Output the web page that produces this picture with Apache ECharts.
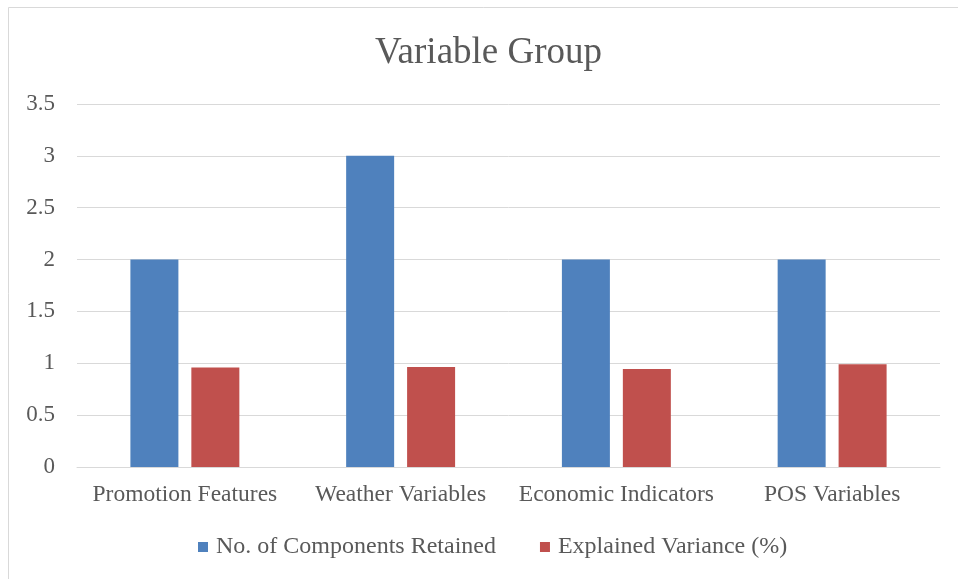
<!DOCTYPE html>
<html>
<head>
<meta charset="utf-8">
<script src="https://cdn.jsdelivr.net/npm/echarts@6/dist/echarts.min.js"></script>
<style>
  html, body { margin: 0; padding: 0; background: #ffffff; }
  #chart { width: 958px; height: 579px; }
</style>
</head>
<body>
<div id="chart"></div>
<script>
// Variable groups and their PCA summary values
const categories = ['Promotion Features', 'Weather Variables', 'Economic Indicators', 'POS Variables'];
const componentsRetained = [2, 3, 2, 2];
const explainedVariance = [0.96, 0.965, 0.945, 0.99];
const seriesNames = ['No. of Components Retained', 'Explained Variance (%)'];
const chartTitle = 'Variable Group';

const serif = '"Liberation Serif", "Times New Roman", serif';
const textColor = '#595959';

const chart = echarts.init(document.getElementById('chart'), null, { renderer: 'canvas' });

chart.setOption({
  backgroundColor: '#ffffff',
  animation: false,
  graphic: [{
    type: 'rect',
    shape: { x: 8.5, y: 7.5, width: 980, height: 600 },
    style: { fill: 'none', stroke: '#d9d9d9', lineWidth: 1 },
    silent: true
  }],
  title: {
    text: chartTitle,
    left: 370,
    top: 30,
    textStyle: { fontFamily: serif, fontSize: 37, fontWeight: 'normal', color: textColor }
  },
  legend: {
    data: seriesNames,
    bottom: 15,
    left: 193,
    itemWidth: 10,
    itemHeight: 10,
    itemGap: 44,
    icon: 'rect',
    textStyle: { fontFamily: serif, fontSize: 24, color: textColor, padding: [0, 0, 0, 3] }
  },
  grid: { left: 77, right: 18, top: 104, bottom: 112, containLabel: false },
  xAxis: {
    type: 'category',
    data: categories,
    axisTick: { show: false },
    axisLine: { show: true, lineStyle: { color: '#d9d9d9', width: 1 } },
    axisLabel: { interval: 0, fontFamily: serif, fontSize: 23.5, color: textColor, margin: 16 }
  },
  yAxis: {
    type: 'value',
    min: 0,
    max: 3.5,
    interval: 0.5,
    axisLine: { show: false },
    axisTick: { show: false },
    splitLine: { lineStyle: { color: '#d9d9d9', width: 1 } },
    axisLabel: { fontFamily: serif, fontSize: 23, color: textColor, margin: 22 }
  },
  series: [
    {
      name: seriesNames[0],
      type: 'bar',
      data: componentsRetained,
      barWidth: 48,
      barGap: '27%',
      itemStyle: { color: '#4f81bd' }
    },
    {
      name: seriesNames[1],
      type: 'bar',
      data: explainedVariance,
      barWidth: 48,
      barGap: '27%',
      itemStyle: { color: '#c0504d' }
    }
  ]
});
</script>
</body>
</html>
